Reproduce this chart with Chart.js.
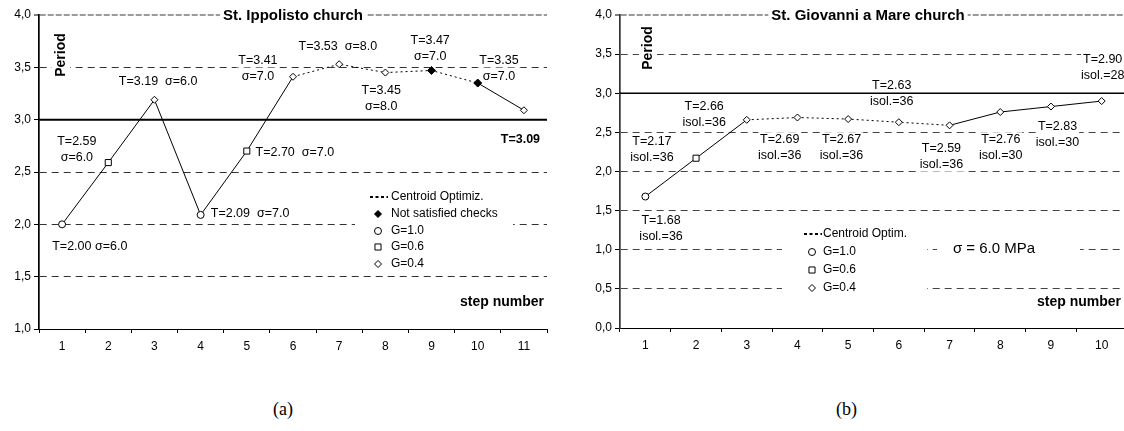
<!DOCTYPE html>
<html>
<head>
<meta charset="utf-8">
<script src="https://cdn.jsdelivr.net/npm/chart.js@4.4.1/dist/chart.umd.min.js"></script>
<style>
    html, body { margin: 0; padding: 0; background: #fff; overflow: hidden; width: 1124px; height: 431px; position: relative; }
    .box { position: absolute; top: 0; height: 362px; }
    #boxA { left: 0; width: 560px; }
    #boxB { left: 580px; width: 560px; }
    .cap { position: absolute; top: 399px; font-family: "Liberation Serif", "DejaVu Serif", serif; font-size: 18px; }
</style>
</head>
<body>
<div class="box" id="boxA"><canvas id="chartA"></canvas></div>
<div class="box" id="boxB"><canvas id="chartB"></canvas></div>
<div class="cap" style="left:273px">(a)</div>
<div class="cap" style="left:836px">(b)</div>
<script>
// (a) St. Ippolisto church
const stepsA = ['1', '2', '3', '4', '5', '6', '7', '8', '9', '10', '11'];
const periodA = [2.00, 2.59, 3.19, 2.09, 2.70, 3.41, 3.53, 3.45, 3.47, 3.35, 3.09];
const sigmaA = [6.0, 6.0, 6.0, 7.0, 7.0, 7.0, 8.0, 8.0, 7.0, 7.0, null];
const gA = [1.0, 0.6, 0.4, 1.0, 0.6, 0.4, 0.4, 0.4, 0.4, 0.4, 0.4];
const failedA = [9, 10];        // steps with not satisfied checks
const centroidA = [6, 10];      // first / last step of centroid optimization
const limitA = 3.0;

// (b) St. Giovanni a Mare church
const stepsB = ['1', '2', '3', '4', '5', '6', '7', '8', '9', '10'];
const periodB = [1.68, 2.17, 2.66, 2.69, 2.67, 2.63, 2.59, 2.76, 2.83, 2.90];
const isolB = [36, 36, 36, 36, 36, 36, 36, 30, 30, 28];
const gB = [1.0, 0.6, 0.4, 0.4, 0.4, 0.4, 0.4, 0.4, 0.4, 0.4];
const failedB = [];
const centroidB = [3, 7];
const sigmaB = 6.0;
const limitB = 3.0;

const FONT = '"Liberation Sans", Arial, sans-serif';
Chart.defaults.font.family = FONT;
Chart.defaults.color = '#000';

// label anchors (category index, value) and layout
const labelPosA = [
    { x: 0.60, y: 1.79, mode: 'row1' },
    { x: 0.32, y: 2.71, mode: 'stack' },
    { x: 2.08, y: 3.36, mode: 'row' },
    { x: 4.07, y: 2.10, mode: 'row' },
    { x: 5.04, y: 2.69, mode: 'row' },
    { x: 4.24, y: 3.49, mode: 'stack' },
    { x: 5.97, y: 3.70, mode: 'row' },
    { x: 6.91, y: 3.20, mode: 'stack' },
    { x: 7.97, y: 3.68, mode: 'stack' },
    { x: 9.46, y: 3.49, mode: 'stack' },
    { x: 10.35, y: 2.81, mode: 'bold' }
];
const labelPosB = [
    { x: 0.31, y: 1.27 }, { x: 0.13, y: 2.28 }, { x: 1.16, y: 2.73 },
    { x: 2.65, y: 2.31 }, { x: 3.87, y: 2.31 }, { x: 4.86, y: 3.00 },
    { x: 5.84, y: 2.19 }, { x: 7.01, y: 2.31 }, { x: 8.13, y: 2.47 },
    { x: 9.02, y: 3.33 }
];

function markerStyle(g) {
    return g === 1.0 ? 'circle' : g === 0.6 ? 'rect' : 'rectRot';
}

function series(periods, g, failed, centroid) {
    return {
        data: periods,
        borderColor: '#000',
        borderWidth: 1,
        tension: 0,
        fill: false,
        pointStyle: g.map(markerStyle),
        pointRadius: g.map((v, i) => v === 0.6 ? 4.3 : failed.includes(i + 1) ? 4 : 3.5),
        pointBackgroundColor: periods.map((_, i) => failed.includes(i + 1) ? '#000' : '#fff'),
        pointBorderColor: '#000',
        pointBorderWidth: 1,
        segment: {
            borderDash: c => (c.p0DataIndex + 1 >= centroid[0] && c.p1DataIndex + 1 <= centroid[1]) ? [2, 3] : undefined
        }
    };
}

function textLine(ctx, text, x, y, align, font) {
    ctx.font = font;
    const w = ctx.measureText(text).width;
    const left = align === 'right' ? x - w : align === 'left' ? x : x - w / 2;
    ctx.fillStyle = '#fff';
    ctx.fillRect(left - 2, y - 7, w + 4, 14);
    ctx.fillStyle = '#000';
    ctx.textAlign = align;
    ctx.textBaseline = 'middle';
    ctx.fillText(text, x, y);
}

function makeOverlay(cfg) {
    return {
        id: 'overlay',
        beforeDatasetsDraw(chart) {
            const { ctx, chartArea: a, scales: { x, y } } = chart;
            ctx.save();
            const f12 = '12.5px ' + FONT;

            // point labels
            cfg.labels.forEach(l => {
                const px = x.getPixelForValue(l.x);
                const py = y.getPixelForValue(l.y);
                if (l.lines.length === 2) {
                    textLine(ctx, l.lines[0], px, py - 8, 'center', f12);
                    textLine(ctx, l.lines[1], px, py + 8, 'center', f12);
                } else {
                    textLine(ctx, l.lines[0], px, py, l.align || 'center', l.font || f12);
                }
            });

            // limit line
            const ly = y.getPixelForValue(cfg.limit);
            ctx.strokeStyle = '#000';
            ctx.lineWidth = cfg.limitWidth;
            ctx.setLineDash([]);
            ctx.beginPath();
            ctx.moveTo(a.left, ly);
            ctx.lineTo(a.right, ly);
            ctx.stroke();

            // title
            const tf = 'bold 15px ' + FONT;
            ctx.font = tf;
            const tw = ctx.measureText(cfg.title).width;
            ctx.fillStyle = '#fff';
            ctx.fillRect(a.left + cfg.titleX - tw / 2 - 3, a.top - 9, tw + 6, 18);
            ctx.fillStyle = '#000';
            ctx.textAlign = 'center';
            ctx.textBaseline = 'middle';
            ctx.fillText(cfg.title, a.left + cfg.titleX, a.top + 1);

            // "Period" (rotated)
            ctx.save();
            ctx.translate(a.left + cfg.periodPos[0], a.top + cfg.periodPos[1]);
            ctx.rotate(-Math.PI / 2);
            ctx.font = 'bold 14px ' + FONT;
            const pw = ctx.measureText('Period').width;
            ctx.fillStyle = '#fff';
            ctx.fillRect(-pw / 2 - 3, -9, pw + 6, 18);
            ctx.fillStyle = '#000';
            ctx.fillText('Period', 0, 0);
            ctx.restore();

            // "step number"
            textLine(ctx, 'step number', a.right + cfg.stepPos[0], a.bottom + cfg.stepPos[1], 'right', 'bold 14px ' + FONT);

            // legend
            const lg = cfg.legend;
            ctx.fillStyle = '#fff';
            ctx.fillRect(a.left + lg.box[0], a.top + lg.box[1], lg.box[2], lg.box[3]);
            lg.items.forEach((it, i) => {
                const ry = a.top + lg.rows[i];
                const sx = a.left + lg.symX;
                ctx.strokeStyle = '#000';
                ctx.fillStyle = it.fill || '#fff';
                if (it.line) {
                    ctx.lineWidth = 2;
                    ctx.setLineDash([3, 2.5]);
                    ctx.beginPath();
                    ctx.moveTo(sx - 8, ry);
                    ctx.lineTo(sx + 10, ry);
                    ctx.stroke();
                    ctx.setLineDash([]);
                } else {
                    ctx.lineWidth = 1;
                    Chart.helpers.drawPoint(ctx, { pointStyle: it.style, radius: it.style === 'rect' ? 4.3 : 3.5, borderWidth: 1, rotation: 0 }, sx, ry);
                }
                ctx.fillStyle = '#000';
                ctx.font = '12px ' + FONT;
                ctx.textAlign = 'left';
                ctx.textBaseline = 'middle';
                ctx.fillText(it.text, a.left + lg.textX, ry);
            });

            if (cfg.note) {
                const n = cfg.note;
                ctx.fillStyle = '#fff';
                ctx.fillRect(a.left + n.box[0], a.top + n.box[1], n.box[2], n.box[3]);
                ctx.fillStyle = '#000';
                ctx.font = '15px ' + FONT;
                ctx.textAlign = 'center';
                ctx.textBaseline = 'middle';
                ctx.fillText(n.text, a.left + n.x, a.top + n.y);
            }
            ctx.restore();
        }
    };
}

function makeChart(id, steps, periods, g, failed, centroid, yMin, yWidth, xHeight, overlayCfg, gridColor, axisColor) {
    return new Chart(document.getElementById(id), {
        type: 'line',
        data: { labels: steps, datasets: [series(periods, g, failed, centroid)] },
        options: {
            responsive: true,
            maintainAspectRatio: false,
            animation: false,
            layout: { padding: { top: 15, right: 13, left: 0, bottom: 0 } },
            plugins: { legend: { display: false }, tooltip: { enabled: false } },
            scales: {
                x: {
                    offset: true,
                    afterFit: s => { s.height = xHeight; },
                    grid: { display: true, drawOnChartArea: false, drawTicks: true, tickLength: 4, tickColor: '#000', offset: true },
                    border: { color: '#000', width: 1 },
                    ticks: { font: { size: 12 }, color: '#000', padding: 6, maxRotation: 0 }
                },
                y: {
                    min: yMin,
                    max: 4,
                    afterFit: s => { s.width = yWidth; },
                    ticks: {
                        stepSize: 0.5,
                        font: { size: 12 },
                        color: '#000',
                        padding: 3,
                        callback: v => v.toFixed(1).replace('.', ',')
                    },
                    grid: {
                        color: c => c.tick.value === 4 ? '#9a9a9a' : (c.tick.value === yMin || c.tick.value === 3) ? 'rgba(0,0,0,0)' : gridColor,
                        lineWidth: c => c.tick.value === 4 ? 2 : 1,
                        tickLength: 5,
                        tickColor: '#000',
                        tickWidth: 1
                    },
                    border: {
                        color: axisColor,
                        width: 1.7,
                        dash: c => c.type === 'tick' ? (c.tick.value === 4 ? [6, 2] : [7, 5]) : []
                    }
                }
            }
        },
        plugins: [makeOverlay(overlayCfg)]
    });
}

const T = v => 'T=' + v.toFixed(2);

const labelsA = labelPosA.map((p, i) => {
    const t = T(periodA[i]);
    const s = sigmaA[i] !== null ? 'σ=' + sigmaA[i].toFixed(1) : '';
    if (p.mode === 'stack') return { x: p.x, y: p.y, lines: [t, s] };
    if (p.mode === 'row') return { x: p.x, y: p.y, lines: [t + '  ' + s] };
    if (p.mode === 'row1') return { x: p.x, y: p.y, lines: [t + ' ' + s] };
    return { x: p.x, y: p.y, lines: [t], align: 'right', font: 'bold 12.5px ' + FONT };
});

const labelsB = labelPosB.map((p, i) => ({ x: p.x, y: p.y, lines: [T(periodB[i]), 'isol.=' + isolB[i]] }));

makeChart('chartA', stepsA, periodA, gA, failedA, centroidA, 1, 39, 33, {
    labels: labelsA,
    limit: limitA,
    limitWidth: 2,
    title: 'St. Ippolisto church',
    titleX: 254,
    periodPos: [22, 40],
    stepPos: [-3, -27],
    legend: {
        box: [316, 173, 158, 84],
        rows: [182, 199, 216, 232, 249],
        symX: 339,
        textX: 352,
        items: [
            { line: true, text: 'Centroid Optimiz.' },
            { style: 'rectRot', fill: '#000', text: 'Not satisfied checks' },
            { style: 'circle', text: 'G=1.0' },
            { style: 'rect', text: 'G=0.6' },
            { style: 'rectRot', text: 'G=0.4' }
        ]
    }
}, '#333', '#000');

makeChart('chartB', stepsB, periodB, gB, failedB, centroidB, 0, 40, 34, {
    labels: labelsB,
    limit: limitB,
    limitWidth: 1.5,
    title: 'St. Giovanni a Mare church',
    titleX: 248,
    periodPos: [28, 33],
    stepPos: [-6, -26],
    legend: {
        box: [162, 210, 145, 72],
        rows: [219, 237, 255, 273],
        symX: 192,
        textX: 203,
        items: [
            { line: true, text: 'Centroid Optim.' },
            { style: 'circle', text: 'G=1.0' },
            { style: 'rect', text: 'G=0.6' },
            { style: 'rectRot', text: 'G=0.4' }
        ]
    },
    note: { text: 'σ = ' + sigmaB.toFixed(1) + ' MPa', x: 374, y: 234, box: [317, 225, 143, 18] }
}, '#444', '#333');
</script>
</body>
</html>
